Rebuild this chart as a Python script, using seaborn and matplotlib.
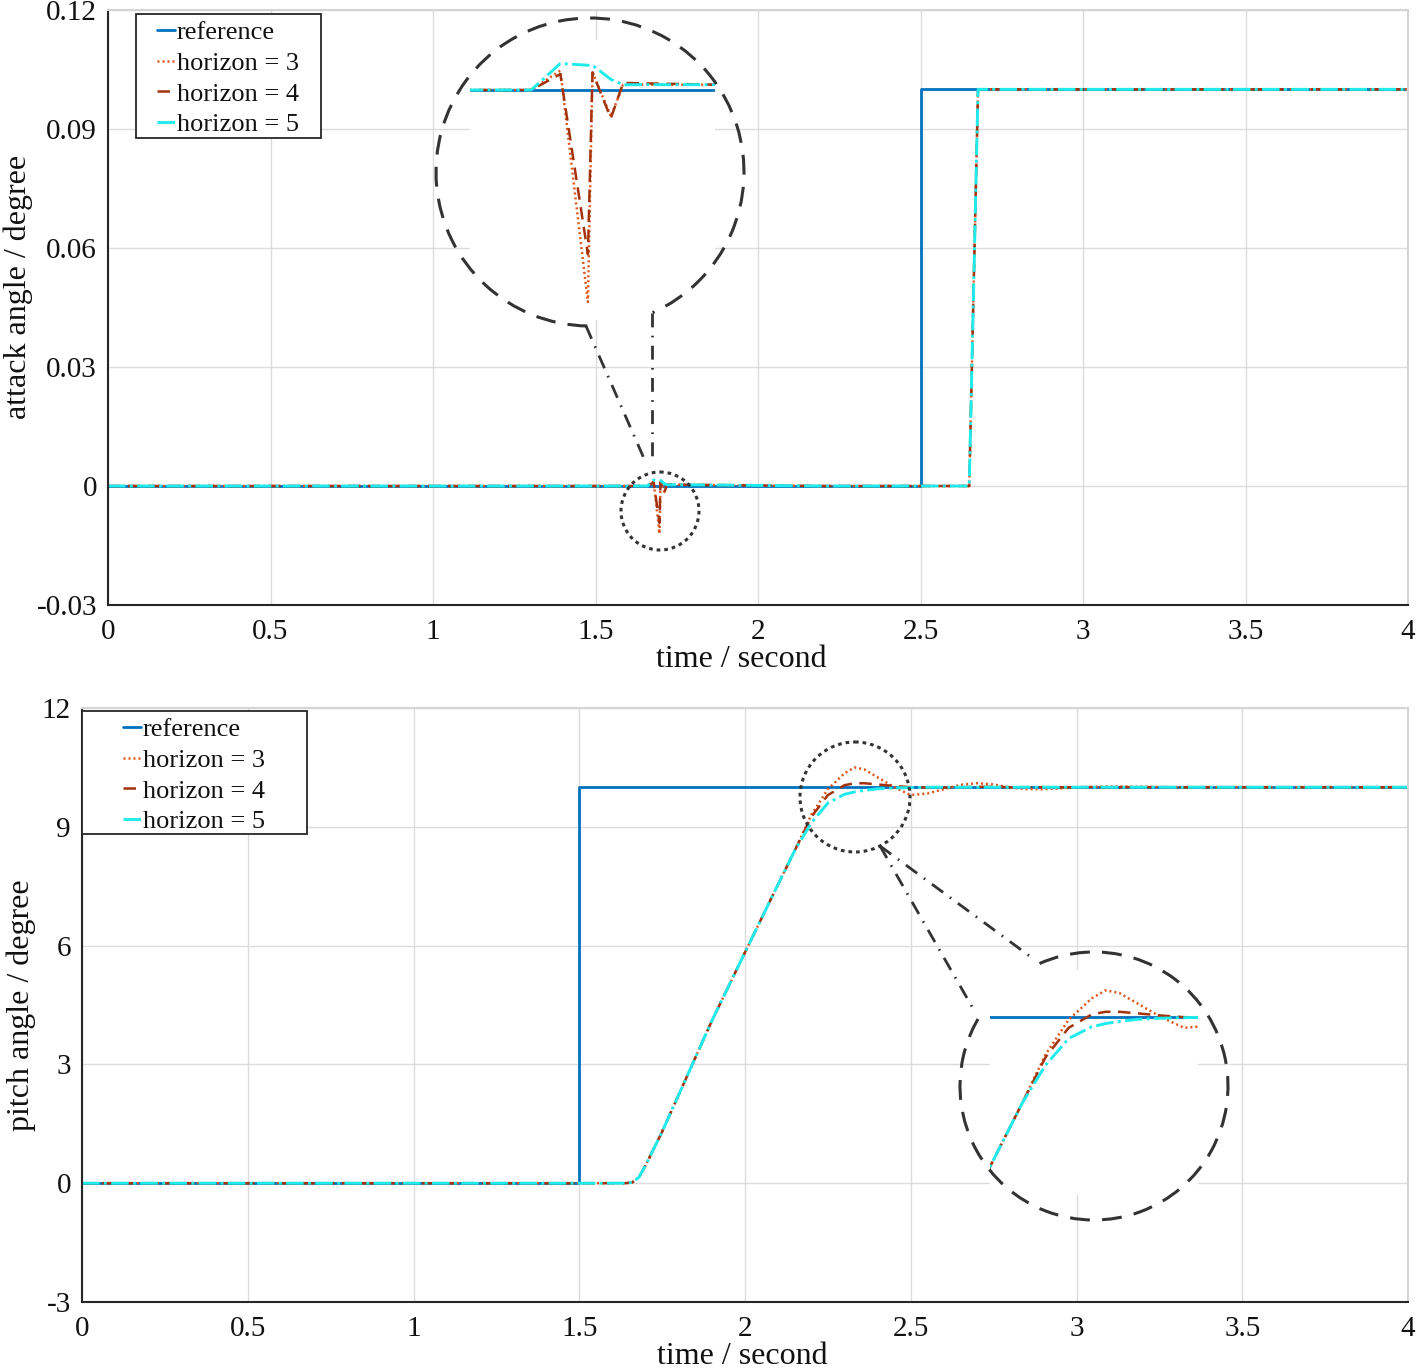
import numpy as np
import pandas as pd
import seaborn as sns
import matplotlib.pyplot as plt
from matplotlib.patches import Arc, Circle, Rectangle

# ---- data ----
# top panel: attack angle
t_ref_top = [0, 2.5, 2.5, 4.0]
v_ref_top = [0, 0, 0.1, 0.1]
t_top = [0, 1.66, 1.679, 1.697, 1.70, 1.712, 1.72, 1.78, 2.2, 2.65, 2.677, 4.0]
h3_top = [0, 0, 0.0011, -0.0120, 0.0010, -0.0015, 0.0003, 0.0003, 0, 0, 0.1, 0.1]
h4_top = [0, 0, 0.0009, -0.0093, 0.0010, -0.0016, 0.0004, 0.0003, 0, 0, 0.1, 0.1]
h5_top = [0, 0, 0.0015, 0.0014, 0.0014, 0.0006, 0.0003, 0.0003, 0, 0, 0.1, 0.1]

# bottom panel: pitch angle
t_ref_bot = [0, 1.5, 1.5, 4.0]
v_ref_bot = [0, 0, 10, 10]
t_bot = [0, 1.64, 1.66, 1.68, 1.70, 1.75, 1.9, 2.0, 2.1, 2.15, 2.2, 2.25, 2.3, 2.33,
         2.36, 2.4, 2.45, 2.5, 2.55, 2.6, 2.65, 2.7, 2.75, 2.8, 2.85, 2.9, 2.95,
         3.0, 3.1, 3.2, 3.3, 4.0]
h3_bot = [0, 0, 0.02, 0.15, 0.45, 1.3, 4.1, 5.83, 7.55, 8.4, 9.3, 9.95, 10.35, 10.5,
          10.45, 10.25, 10.0, 9.8, 9.84, 9.95, 10.06, 10.1, 10.07, 9.99, 9.95, 9.95, 9.97,
          10.0, 10.02, 10.01, 10.0, 10.0]
h4_bot = [0, 0, 0.02, 0.15, 0.45, 1.3, 4.1, 5.83, 7.55, 8.4, 9.25, 9.8, 10.05, 10.1,
          10.1, 10.07, 10.03, 10.0, 9.99, 9.99, 10.0, 10.01, 10.01, 10.0, 10.0, 10.0, 10.0,
          10.0, 10.0, 10.0, 10.0, 10.0]
h5_bot = [0, 0, 0.02, 0.15, 0.45, 1.3, 4.1, 5.83, 7.55, 8.4, 9.1, 9.6, 9.82, 9.88,
          9.92, 9.96, 9.98, 9.99, 10.0, 10.0, 10.0, 10.0, 10.0, 10.0, 10.0, 10.0, 10.0,
          10.0, 10.0, 10.0, 10.0, 10.0]

labels = ['reference', 'horizon = 3', 'horizon = 4', 'horizon = 5']
colors = ['#0072BD', '#E0551B', '#A3330C', '#1EECEC']
styles = ['-', (0, (0.8, 1.2)), (0, (5, 3)), (0, (6, 1.5, 1, 1.5))]
widths = [2.0, 1.8, 1.8, 2.1]

top_xticks = [0, 0.5, 1, 1.5, 2, 2.5, 3, 3.5, 4]
top_xlabels = ['0', '0.5', '1', '1.5', '2', '2.5', '3', '3.5', '4']
top_yticks = [-0.03, 0, 0.03, 0.06, 0.09, 0.12]
top_ylabels = ['-0.03', '0', '0.03', '0.06', '0.09', '0.12']
bot_yticks = [-3, 0, 3, 6, 9, 12]
bot_ylabels = ['-3', '0', '3', '6', '9', '12']

sns.set_theme(style='whitegrid')
plt.rcParams['font.family'] = ['Liberation Serif', 'DejaVu Serif']
plt.rcParams['axes.unicode_minus'] = False

W, H = 1418, 1369
fig = plt.figure(figsize=(W / 100, H / 100), dpi=100)
fig.patch.set_facecolor('white')


def px_rect(l, t, r, b):
    return [l / W, (H - b) / H, (r - l) / W, (b - t) / H]


def draw_series(ax, series, legend=True):
    for (x, y), lab, c, ls, lw in zip(series, labels, colors, styles, widths):
        sns.lineplot(x=x, y=y, ax=ax, color=c, linestyle=ls, linewidth=lw,
                     estimator=None, sort=False, label=lab if legend else None,
                     legend=False)


def style_main(ax, yt, yl, ylabel):
    ax.set_facecolor('white')
    ax.set_xlim(0, 4)
    ax.set_xticks(top_xticks)
    ax.set_xticklabels(top_xlabels)
    ax.set_yticks(yt)
    ax.set_yticklabels(yl)
    ax.set_ylim(yt[0], yt[-1])
    ax.grid(True, color='#dcdcdc', linewidth=1.0)
    ax.tick_params(axis='both', labelsize=21, length=0, colors='#111111')
    ax.tick_params(axis='x', pad=10)
    ax.tick_params(axis='y', pad=8)
    for s in ['left', 'bottom']:
        ax.spines[s].set_color('#262626')
        ax.spines[s].set_linewidth(1.5)
    for s in ['top', 'right']:
        ax.spines[s].set_color('#d4d4d4')
        ax.spines[s].set_linewidth(1.5)
    ax.set_xlabel('time / second', fontsize=23, labelpad=0, color='#111111')
    ax.set_ylabel(ylabel, fontsize=23, labelpad=4, color='#111111')


def add_legend(ax, box, handle_left, first_row):
    # box = (left, top, right, bottom) in figure pixels
    l, t, r, b = box
    x0, y1 = ax.transAxes.inverted().transform(fig.transFigure.transform((l / W, 1 - t / H)))
    x1, y0 = ax.transAxes.inverted().transform(fig.transFigure.transform((r / W, 1 - b / H)))
    ax.add_patch(Rectangle((x0, y0), x1 - x0, y1 - y0, transform=ax.transAxes,
                           facecolor='white', edgecolor='#262626', lw=1.3, zorder=4.5))
    ax_x, ax_y = ax.transAxes.inverted().transform(
        fig.transFigure.transform((handle_left / W, 1 - first_row / H)))
    leg = ax.legend(loc='upper left', bbox_to_anchor=(ax_x, ax_y), borderaxespad=0,
                    fontsize=19, handlelength=0.7, handletextpad=0.05,
                    labelspacing=0.27, borderpad=0, frameon=False)
    leg.set_zorder(5)
    for txt in leg.get_texts():
        txt.set_color('#111111')


def style_inset(ax, xl, yl):
    ax.set_xlim(*xl)
    ax.set_ylim(*yl)
    ax.set_facecolor('white')
    ax.grid(False)
    ax.set_xticks([])
    ax.set_yticks([])
    for s in ax.spines.values():
        s.set_visible(False)
    ax.set_xlabel('')
    ax.set_ylabel('')


# ---- top panel ----
top_series = [(t_ref_top, v_ref_top), (t_top, h3_top), (t_top, h4_top), (t_top, h5_top)]
ax1 = fig.add_axes(px_rect(108, 10, 1408, 605))
draw_series(ax1, top_series)
style_main(ax1, top_yticks, top_ylabels, 'attack angle / degree')
ax1.yaxis.set_label_coords(-0.058, 0.534)
ax1.xaxis.label.set_x(0.487)
add_legend(ax1, (136, 14, 321, 138), 157, 21)

ins1 = fig.add_axes(px_rect(470, 40, 715, 320))
draw_series(ins1, top_series, legend=False)
style_inset(ins1, (1.62, 1.78), (-0.01302, 0.00283))

# ---- bottom panel ----
bot_series = [(t_ref_bot, v_ref_bot), (t_bot, h3_bot), (t_bot, h4_bot), (t_bot, h5_bot)]
ax2 = fig.add_axes(px_rect(82, 708, 1408, 1302))
draw_series(ax2, bot_series)
style_main(ax2, bot_yticks, bot_ylabels, 'pitch angle / degree')
ax2.xaxis.label.set_x(0.4977)
add_legend(ax2, (82, 711, 307, 834), 123, 718)

ins2 = fig.add_axes(px_rect(990, 970, 1198, 1195))
draw_series(ins2, bot_series, legend=False)
style_inset(ins2, (2.08, 2.53), (6.68, 10.88))

# ---- zoom callouts (figure pixel overlay) ----
ov = fig.add_axes([0, 0, 1, 1], zorder=10)
ov.set_xlim(0, W)
ov.set_ylim(H, 0)
ov.axis('off')
ov.patch.set_alpha(0)
dk = '#333333'
big_dash = (0, (6.5, 4))
dot = (0, (1.2, 1.3))
dashdot = (0, (5, 3, 0.6, 3))

# top callout
ov.add_patch(Arc((590, 172), 308, 308, theta1=91, theta2=426, color=dk, lw=2.2, linestyle=big_dash))
ov.add_patch(Circle((660, 511), 39, fill=False, color=dk, lw=2.2, linestyle=dot))
ov.plot([586, 646], [326, 463], color=dk, lw=2.0, linestyle=dashdot)
ov.plot([652, 652], [313, 462], color=dk, lw=2.0, linestyle=dashdot)

# bottom callout
ov.add_patch(Arc((1094, 1086), 268, 268, theta1=246, theta2=573, color=dk, lw=2.2, linestyle=big_dash))
ov.add_patch(Circle((855, 797), 55, fill=False, color=dk, lw=2.2, linestyle=dot))
ov.plot([880, 1035], [846, 960], color=dk, lw=2.0, linestyle=dashdot)
ov.plot([880, 975], [846, 1012], color=dk, lw=2.0, linestyle=dashdot)

fig.savefig('out.png', dpi=100)
